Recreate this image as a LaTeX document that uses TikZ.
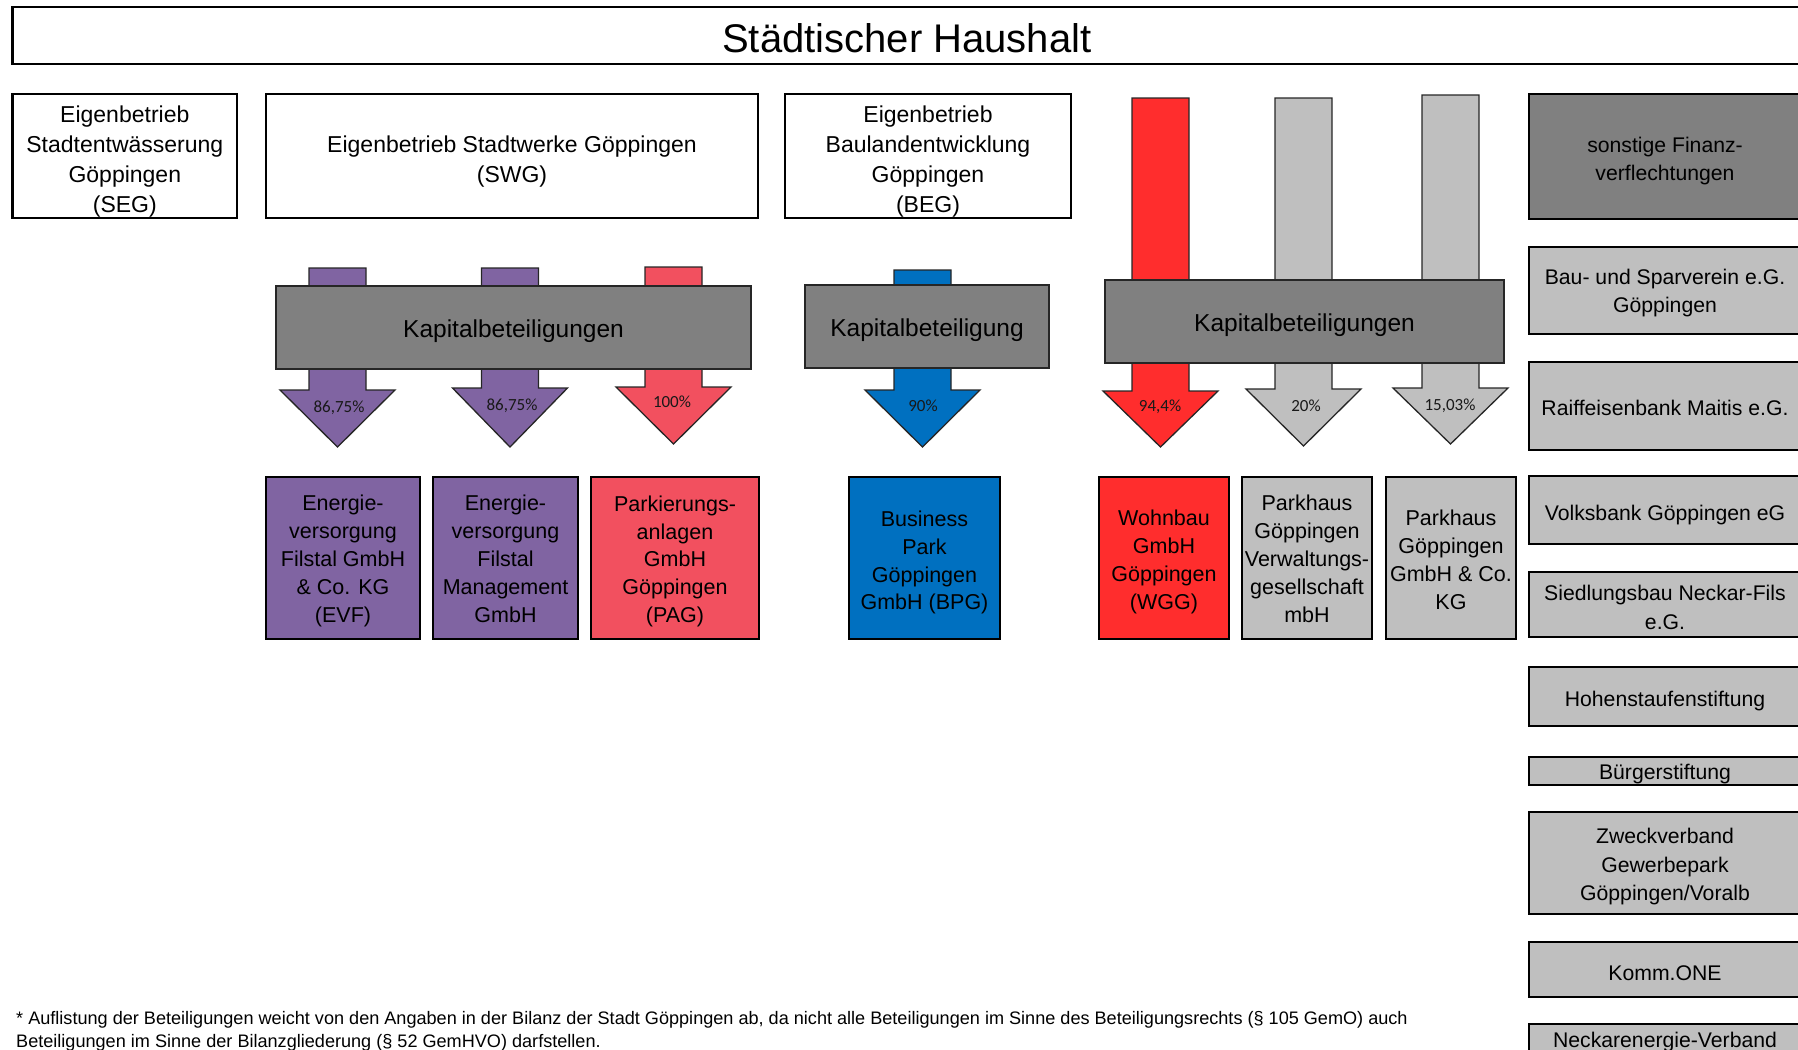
\documentclass[tikz,border=0pt]{standalone}
\usepackage{fontspec}
\setmainfont{Liberation Sans}
\newfontfamily\calib{Carlito}
\definecolor{cpurple}{RGB}{128,100,162}
\definecolor{cpag}{RGB}{242,80,95}
\definecolor{cblue}{RGB}{0,112,192}
\definecolor{cwgg}{RGB}{255,45,45}
\definecolor{clgray}{RGB}{191,191,191}
\definecolor{cdgray}{RGB}{128,128,128}
\newcommand{\myarrow}[5]{%
  \draw[arrline, fill=#5] ({#1-28.5},#2) -- ({#1+28.5},#2) -- ({#1+28.5},#3) -- ({#1+57.5},#3) -- (#1,#4) -- ({#1-57.5},#3) -- ({#1-28.5},#3) -- cycle;}
\begin{document}
\begin{tikzpicture}[x=1pt,y=-1pt,
  topbox/.style={draw=black, line width=2.4pt, fill=white, inner sep=0pt},
  toplab/.style={inner sep=0pt, align=center, font=\fontsize{23}{30}\selectfont, yshift=-5.7pt},
  kbox/.style={draw=black!85, line width=1.5pt, fill=cdgray, inner sep=0pt, minimum height=83pt},
  klab/.style={inner sep=0pt, align=center, font=\fontsize{24.5}{30}\selectfont, yshift=-3.4pt},
  cbox/.style={draw=black, line width=2.4pt, inner sep=0pt, minimum height=162pt},
  clab/.style={inner sep=0pt, align=center, font=\fontsize{21.5}{27.8}\selectfont},
  rbox/.style={draw=black, line width=2.4pt, fill=clgray, inner sep=0pt, minimum width=272pt},
  rlab/.style={inner sep=0pt, align=center, font=\fontsize{21.2}{28.5}\selectfont},
  arrline/.style={draw=black!85, line width=1.3pt},
  pct/.style={inner sep=0pt, font=\calib\fontsize{17}{20}\selectfont, text=black!90}
]
\useasboundingbox (0,0) rectangle (1798,1049);
\clip (0,0) rectangle (1798,1049);

% title
\node[topbox, minimum width=1788.4pt, minimum height=57pt,
  label={[inner sep=0pt, font=\fontsize{40}{46}\selectfont, yshift=-2.3pt]center:Städtischer Haushalt}] (title) at (906.8,35.5) {};

% row 1
\node[topbox, minimum width=224.4pt, minimum height=124pt,
  label={[toplab]center:{Eigenbetrieb\\Stadtentwässerung\\Göppingen\\(SEG)}}] (seg) at (124.8,156) {};
\node[topbox, minimum width=492pt, minimum height=124pt,
  label={[toplab]center:{Eigenbetrieb Stadtwerke Göppingen\\(SWG)}}] (swg) at (512,156) {};
\node[topbox, minimum width=286pt, minimum height=124pt,
  label={[toplab]center:{Eigenbetrieb\\Baulandentwicklung\\Göppingen\\(BEG)}}] (beg) at (928,156) {};

% arrows
\myarrow{337.5}{268}{390}{447}{cpurple}
\myarrow{510}{268}{388}{447}{cpurple}
\myarrow{673.5}{267}{387}{444}{cpag}
\myarrow{922.5}{270}{390}{447}{cblue}
\myarrow{1160.5}{98}{391}{447}{cwgg}
\myarrow{1303.5}{98}{389}{446}{clgray}
\myarrow{1450.5}{95}{388}{444}{clgray}

% capital boxes
\node[kbox, minimum width=475pt, label={[klab]center:Kapitalbeteiligungen}] (k1) at (513.5,327.5) {};
\node[kbox, minimum width=244pt, label={[klab]center:Kapitalbeteiligung}] (k2) at (927,326.5) {};
\node[kbox, minimum width=399pt, label={[klab]center:Kapitalbeteiligungen}] (k3) at (1304.5,321.5) {};

% percent labels
\node[pct] (p1) at (339,408) {86,75\%};
\node[pct] (p2) at (512,406) {86,75\%};
\node[pct] (p3) at (672,402) {100\%};
\node[pct] (p4) at (923,406) {90\%};
\node[pct] (p5) at (1160,407) {94,4\%};
\node[pct] (p6) at (1306,406) {20\%};
\node[pct] (p7) at (1450,406) {15,03\%};

% row 3 companies
\node[cbox, fill=cpurple, minimum width=154pt,
  label={[clab, yshift=-2.9pt]center:{Energie-\\versorgung\\Filstal GmbH\\\& Co. KG\\(EVF)}}] (evf) at (343,558) {};
\node[cbox, fill=cpurple, minimum width=145pt,
  label={[clab, yshift=-0.8pt]center:{Energie-\\versorgung\\Filstal\\Management\\GmbH}}] (evfm) at (505.5,558) {};
\node[cbox, fill=cpag, minimum width=168pt,
  label={[clab, yshift=-3.4pt]center:{Parkierungs-\\anlagen\\GmbH\\Göppingen\\(PAG)}}] (pag) at (675,558) {};
\node[cbox, fill=cblue, minimum width=151pt,
  label={[clab, yshift=-4.6pt]center:{Business\\Park\\Göppingen\\GmbH (BPG)}}] (bpg) at (924.5,558) {};
\node[cbox, fill=cwgg, minimum width=130pt,
  label={[clab, yshift=-4pt]center:{Wohnbau\\GmbH\\Göppingen\\(WGG)}}] (wgg) at (1164,558) {};
\node[cbox, fill=clgray, minimum width=130pt,
  label={[clab, yshift=-0.8pt]center:{Parkhaus\\Göppingen\\Verwaltungs-\\gesellschaft\\mbH}}] (phv) at (1307,558) {};
\node[cbox, fill=clgray, minimum width=130pt,
  label={[clab, yshift=-1.7pt]center:{Parkhaus\\Göppingen\\GmbH \& Co.\\KG}}] (phkg) at (1451,558) {};

% right column
\node[rbox, fill=cdgray, minimum height=125pt,
  label={[rlab, yshift=-4.6pt]center:{sonstige Finanz-\\verflechtungen}}] (sonst) at (1665,156.5) {};
\node[rbox, minimum height=87pt,
  label={[rlab, yshift=-2.3pt]center:{Bau- und Sparverein e.G.\\Göppingen}}] (bau) at (1665,290.5) {};
\node[rbox, minimum height=88pt,
  label={[rlab, yshift=-2.3pt]center:{Raiffeisenbank Maitis e.G.}}] (raif) at (1665,406) {};
\node[rbox, minimum height=68pt,
  label={[rlab, yshift=-5.2pt]center:{Volksbank Göppingen eG}}] (volks) at (1665,510) {};
\node[rbox, minimum height=65pt,
  label={[rlab, yshift=-2.9pt]center:{Siedlungsbau Neckar-Fils\\e.G.}}] (sied) at (1665,604.5) {};
\node[rbox, minimum height=59pt,
  label={[rlab, yshift=-4.6pt]center:{Hohenstaufenstiftung}}] (hohen) at (1665,696.5) {};
\node[rbox, minimum height=28pt,
  label={[rlab, yshift=-3.4pt]center:{Bürgerstiftung}}] (buerger) at (1665,771) {};
\node[rbox, minimum height=102pt,
  label={[rlab, yshift=-4pt]center:{Zweckverband\\Gewerbepark\\Göppingen/Voralb}}] (zweck) at (1665,863) {};
\node[rbox, minimum height=55pt,
  label={[rlab, yshift=-3.4pt]center:{Komm.ONE}}] (komm) at (1665,969.5) {};
\node[rbox, minimum height=60pt] (neckar) at (1665,1054) {};
\node[rlab] (neckartxt) at (1665,1042) {Neckarenergie-Verband};

% footnote
\node[inner sep=0pt, anchor=base west, align=left, font=\fontsize{18.1}{23}\selectfont] (foot) at (16,1047) {* Auflistung der Beteiligungen weicht von den Angaben in der Bilanz der Stadt Göppingen ab, da nicht alle Beteiligungen im Sinne des Beteiligungsrechts (§ 105 GemO) auch\\Beteiligungen im Sinne der Bilanzgliederung (§ 52 GemHVO) darfstellen.};
\end{tikzpicture}
\end{document}
